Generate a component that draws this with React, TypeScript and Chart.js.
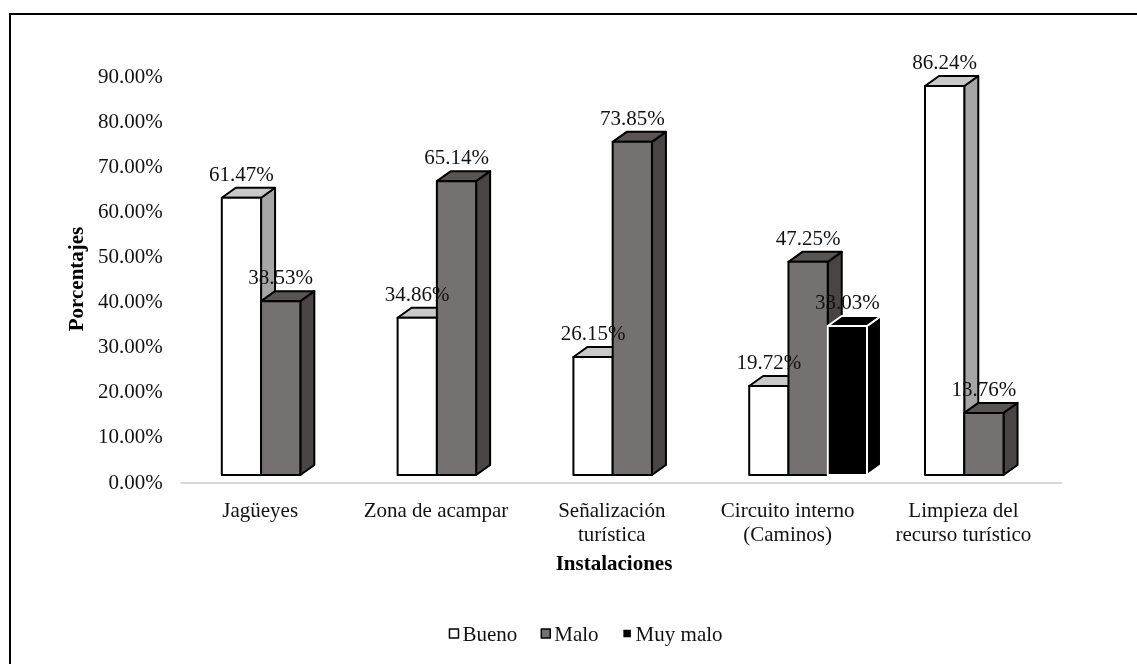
import React, { useEffect, useRef } from "react";
import { Chart, registerables } from "chart.js";

Chart.register(...registerables);

// ---- data ----
const categories: string[][] = [
  ["Jagüeyes"],
  ["Zona de acampar"],
  ["Señalización", "turística"],
  ["Circuito interno", "(Caminos)"],
  ["Limpieza del", "recurso turístico"],
];
const seriesNames = ["Bueno", "Malo", "Muy malo"];
const bueno: (number | null)[] = [61.47, 34.86, 26.15, 19.72, 86.24];
const malo: (number | null)[] = [38.53, 65.14, 73.85, 47.25, 13.76];
const muyMalo: (number | null)[] = [null, null, null, 33.03, null];
const yMin = 0;
const yMax = 90;
const yStep = 10;
const yTitle = "Porcentajes";
const xTitle = "Instalaciones";

// ---- styles ----
const frontColors = ["#ffffff", "#767171", "#000000"];
const topColors = ["#c9c9c9", "#5a5555", "#000000"];
const sideColors = ["#a6a6a6", "#4a4545", "#000000"];
const strokeColors = ["#000000", "#000000", "#ffffff"];
const FONT = '"Liberation Serif", "Times New Roman", serif';

const threeDPlugin = {
  id: "threeD",
  afterDatasetsDraw(chart: any) {
    const ctx: CanvasRenderingContext2D = chart.ctx;
    const dx = 14;
    const dy = 10;
    ctx.save();
    // floor front edge (axis line)
    const ca = chart.chartArea;
    const y0 = chart.scales.y.getPixelForValue(0);
    ctx.strokeStyle = "#d9d9d9";
    ctx.lineWidth = 2;
    ctx.beginPath();
    ctx.moveTo(ca.left - 12, y0 + 8);
    ctx.lineTo(ca.right - 10, y0 + 8);
    ctx.stroke();

    const labels: { x: number; y: number; t: string }[] = [];
    chart.data.datasets.forEach((ds: any, i: number) => {
      const meta = chart.getDatasetMeta(i);
      meta.data.forEach((el: any, j: number) => {
        const v = ds.data[j];
        if (v == null) return;
        const { x, y, base, width } = el.getProps(["x", "y", "base", "width"], true);
        const x0 = x - width / 2;
        const x1 = x + width / 2;
        ctx.lineWidth = 2;
        ctx.lineJoin = "round";
        ctx.strokeStyle = strokeColors[i];
        // side face
        ctx.beginPath();
        ctx.moveTo(x1, y);
        ctx.lineTo(x1 + dx, y - dy);
        ctx.lineTo(x1 + dx, base - dy);
        ctx.lineTo(x1, base);
        ctx.closePath();
        ctx.fillStyle = sideColors[i];
        ctx.fill();
        ctx.stroke();
        // top face
        ctx.beginPath();
        ctx.moveTo(x0, y);
        ctx.lineTo(x0 + dx, y - dy);
        ctx.lineTo(x1 + dx, y - dy);
        ctx.lineTo(x1, y);
        ctx.closePath();
        ctx.fillStyle = topColors[i];
        ctx.fill();
        ctx.stroke();
        // front face
        ctx.beginPath();
        ctx.rect(x0, y, width, base - y);
        ctx.fillStyle = frontColors[i];
        ctx.fill();
        ctx.stroke();
        labels.push({ x, y: y - 17, t: v.toFixed(2) + "%" });
      });
    });
    // data labels
    ctx.fillStyle = "#111";
    ctx.font = `21px ${FONT}`;
    ctx.textAlign = "center";
    ctx.textBaseline = "alphabetic";
    labels.forEach((l) => ctx.fillText(l.t, l.x, l.y));

    // axis titles
    ctx.font = `bold 21px ${FONT}`;
    ctx.textBaseline = "middle";
    ctx.fillStyle = "#000";
    ctx.fillText(xTitle, 614, 565);
    ctx.save();
    ctx.translate(78, 279);
    ctx.rotate(-Math.PI / 2);
    ctx.fillText(yTitle, 0, 0);
    ctx.restore();

    // legend
    ctx.font = `21px ${FONT}`;
    ctx.textAlign = "left";
    ctx.textBaseline = "alphabetic";
    const box = 9;
    const gapBox = 4;
    const gapItem = 24;
    const widths = seriesNames.map((n) => box + gapBox + ctx.measureText(n).width);
    const total = widths.reduce((a, b) => a + b, 0) + gapItem * (widths.length - 1);
    let lx = 586 - total / 2;
    const ly = 641;
    seriesNames.forEach((n, i) => {
      ctx.lineWidth = 1.5;
      ctx.fillStyle = frontColors[i];
      ctx.strokeStyle = i === 2 ? "#ffffff" : "#000000";
      ctx.fillRect(lx, ly - 12, box, box);
      ctx.strokeRect(lx, ly - 12, box, box);
      ctx.fillStyle = "#111";
      ctx.fillText(n, lx + box + gapBox, ly);
      lx += widths[i] + gapItem;
    });
    ctx.restore();
  },
};

export default function App() {
  const ref = useRef<HTMLCanvasElement | null>(null);
  useEffect(() => {
    if (!ref.current) return;
    const seriesData = [bueno, malo, muyMalo];
    const chart = new Chart(ref.current, {
      type: "bar",
      data: {
        labels: categories,
        datasets: seriesNames.map((name, i) => ({
          label: name,
          data: seriesData[i],
          backgroundColor: frontColors[i],
          borderWidth: 0,
          categoryPercentage: 0.67,
          barPercentage: 1,
        })),
      },
      options: {
        responsive: false,
        maintainAspectRatio: false,
        animation: false,
        layout: { padding: { top: 69, left: 0, right: 65.2, bottom: 0 } },
        plugins: {
          legend: { display: false },
          tooltip: { enabled: false },
          title: { display: false },
        },
        scales: {
          x: {
            grid: { display: false },
            border: { display: false },
            ticks: {
              autoSkip: false,
              maxRotation: 0,
              labelOffset: -20.5,
              padding: 17,
              color: "#111",
              font: { family: FONT, size: 21, lineHeight: 1.12 },
            },
            afterFit: (s: any) => {
              s.height = 189;
            },
          },
          y: {
            min: yMin,
            max: yMax,
            grid: { display: false },
            border: { display: false },
            ticks: {
              stepSize: yStep,
              padding: 22,
              labelOffset: 8,
              color: "#111",
              font: { family: FONT, size: 21 },
              callback: (v: any) => Number(v).toFixed(2) + "%",
            },
            afterFit: (s: any) => {
              s.width = 192.8;
            },
          },
        },
      },
      plugins: [threeDPlugin],
    });
    return () => chart.destroy();
  }, []);

  return (
    <div style={{ position: "fixed", left: 0, top: 0, width: 1137, height: 664, background: "#fff", overflow: "hidden" }}>
      <div
        style={{
          position: "absolute",
          left: 9,
          top: 13,
          width: 1200,
          height: 700,
          borderTop: "2.5px solid #000",
          borderLeft: "2px solid #000",
        }}
      />
      <canvas ref={ref} width={1137} height={664} style={{ position: "absolute", left: 0, top: 0, width: 1137, height: 664 }} />
    </div>
  );
}
